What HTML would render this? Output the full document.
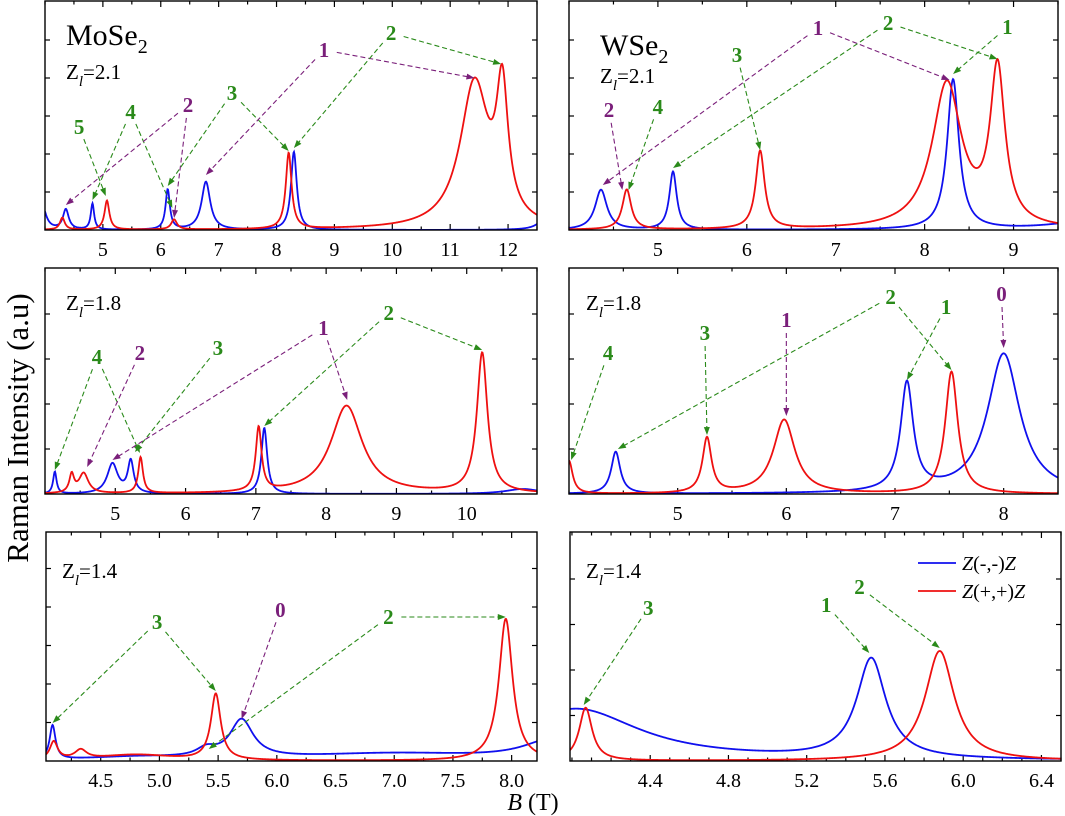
<!DOCTYPE html>
<html><head><meta charset="utf-8"><style>
html,body{margin:0;padding:0;background:#fff;}
svg{display:block;font-family:"Liberation Serif",serif;}
</style></head><body>
<svg id="chart" width="1065" height="816" viewBox="0 0 1065 816" xmlns="http://www.w3.org/2000/svg">
<text x="0" y="0" transform="translate(28,428) rotate(-90)" text-anchor="middle" font-size="31">Raman Intensity (a.u)</text>
<text x="533" y="810" text-anchor="middle" font-size="24"><tspan font-style="italic">B</tspan> (T)</text>
</svg>
<script>
// ---- data: peak centers (T), heights (a.u.), widths (T) ----
const mose2_21_blue_center=[3.95,4.36,4.82,6.12,6.78,8.3,12.65];
const mose2_21_blue_height=[25,20,26,40,48,78,12];
const mose2_21_blue_width=[0.08,0.06,0.035,0.045,0.09,0.06,0.15];
const mose2_21_red_center=[4.3,5.07,6.23,8.21,11.42,11.9];
const mose2_21_red_height=[12,29,10,76,145,125];
const mose2_21_red_width=[0.05,0.05,0.06,0.06,0.3,0.12];

const wse2_21_blue_center=[4.36,5.17,8.32,9.8];
const wse2_21_blue_height=[40,58,150,8];
const wse2_21_blue_width=[0.08,0.05,0.08,0.5];
const wse2_21_red_center=[4.65,6.15,8.25,8.82];
const wse2_21_red_height=[40,78,145,155];
const wse2_21_red_width=[0.06,0.06,0.2,0.1];

const mose2_18_blue_center=[4.14,4.96,5.22,7.12,10.8];
const mose2_18_blue_height=[22,30,32,66,5];
const mose2_18_blue_width=[0.03,0.09,0.05,0.05,0.3];
const mose2_18_red_center=[4.38,4.55,5.36,7.04,8.29,10.22];
const mose2_18_red_height=[18,20,36,64,88,140];
const mose2_18_red_width=[0.04,0.08,0.04,0.05,0.27,0.09];

const wse2_18_blue_center=[4.43,7.11,8.0];
const wse2_18_blue_height=[42,108,140];
const wse2_18_blue_width=[0.05,0.07,0.18];
const wse2_18_red_center=[4.0,5.27,5.98,7.52];
const wse2_18_red_height=[33,55,74,122];
const wse2_18_red_width=[0.04,0.05,0.12,0.07];

const mose2_14_blue_center=[4.09,4.8,5.4,5.7,7.0,8.35];
const mose2_14_blue_height=[34,3,8,38,7,20];
const mose2_14_blue_width=[0.03,0.5,0.1,0.12,1.0,0.3];
const mose2_14_red_center=[4.1,4.33,4.8,5.48,7.95];
const mose2_14_red_height=[18,9,6,66,142];
const mose2_14_red_width=[0.04,0.06,0.4,0.05,0.07];

const wse2_14_blue_center=[4.02,5.53];
const wse2_14_blue_height=[52,100];
const wse2_14_blue_width=[0.4,0.09];
const wse2_14_red_center=[4.07,5.88];
const wse2_14_red_height=[53,110];
const wse2_14_red_width=[0.04,0.09];

// tick labels
const ticks_p1=[5,6,7,8,9,10,11,12];
const ticks_p2=[5,6,7,8,9];
const ticks_p3=[5,6,7,8,9,10];
const ticks_p4=[5,6,7,8];
const ticks_p5=["4.5","5.0","5.5","6.0","6.5","7.0","7.5","8.0"];
const ticks_p6=["4.4","4.8","5.2","5.6","6.0","6.4"];

const GREEN="#2a8a1a", PURPLE="#7a1f7a";
const panels=[
 {name:"mose2-z2.1",l:45,r:537,t:1,b:230,x0:4.0,x1:12.5,ticks:ticks_p1,minor:0.5,ystep:38,
  blue:[mose2_21_blue_center,mose2_21_blue_height,mose2_21_blue_width],red:[mose2_21_red_center,mose2_21_red_height,mose2_21_red_width],
  title:"MoSe",zl:"2.1",tx:66,ty:45,zy:79,
  ann:[["5",GREEN,4.59,103,[[5.05,34]]],["4",GREEN,5.48,118,[[4.82,30],[6.2,22]]],["2",PURPLE,6.47,125,[[4.36,25],[6.23,12]]],
       ["3",GREEN,7.23,137,[[6.12,44],[8.21,79]]],["1",PURPLE,8.82,180,[[6.78,55],[11.42,152]]],["2",GREEN,9.98,197,[[8.3,82],[11.88,166]]]]},
 {name:"wse2-z2.1",l:569,r:1058,t:1,b:230,x0:4.0,x1:9.5,ticks:ticks_p2,minor:0.5,ystep:38,
  blue:[wse2_21_blue_center,wse2_21_blue_height,wse2_21_blue_width],red:[wse2_21_red_center,wse2_21_red_height,wse2_21_red_width],
  title:"WSe",zl:"2.1",tx:600,ty:55,zy:83,
  ann:[["1",PURPLE,6.8,202,[[4.38,45],[8.28,150]]],["2",GREEN,7.59,207,[[5.17,62],[8.82,171]]],["1",GREEN,8.93,203,[[8.32,156]]],
       ["3",GREEN,5.89,175,[[6.15,80]]],["2",PURPLE,4.45,120,[[4.6,40]]],["4",GREEN,5.0,123,[[4.67,40]]]]},
 {name:"mose2-z1.8",l:45,r:537,t:268,b:494,x0:4.0,x1:11.0,ticks:ticks_p3,minor:0.5,ystep:45,
  blue:[mose2_18_blue_center,mose2_18_blue_height,mose2_18_blue_width],red:[mose2_18_red_center,mose2_18_red_height,mose2_18_red_width],
  title:null,zl:"1.8",tx:66,zy:310,
  ann:[["4",GREEN,4.74,137,[[4.14,24],[5.35,41]]],["2",PURPLE,5.35,141,[[4.6,27]]],["3",GREEN,6.46,146,[[5.28,42]]],
       ["1",PURPLE,7.96,166,[[4.96,34],[8.3,94]]],["2",GREEN,8.89,181,[[7.12,68],[10.22,144]]]]},
 {name:"wse2-z1.8",l:569,r:1058,t:268,b:494,x0:4.0,x1:8.5,ticks:ticks_p4,minor:0.5,ystep:45,
  blue:[wse2_18_blue_center,wse2_18_blue_height,wse2_18_blue_width],red:[wse2_18_red_center,wse2_18_red_height,wse2_18_red_width],
  title:null,zl:"1.8",tx:586,zy:310,
  ann:[["4",GREEN,4.36,141,[[4.02,34]]],["3",GREEN,5.25,161,[[5.27,59]]],["1",PURPLE,6.0,174,[[6.0,78]]],
       ["2",GREEN,6.96,197,[[4.45,45],[7.52,124]]],["1",GREEN,7.47,187,[[7.11,114]]],["0",PURPLE,7.98,200,[[8.0,146]]]]},
 {name:"mose2-z1.4",l:46,r:537,t:532,b:761,x0:4.034,x1:8.216,ticks:ticks_p5,minor:0.25,ystep:38.5,
  blue:[mose2_14_blue_center,mose2_14_blue_height,mose2_14_blue_width],red:[mose2_14_red_center,mose2_14_red_height,mose2_14_red_width],
  title:null,zl:"1.4",tx:62,zy:578,
  ann:[["3",GREEN,4.98,139,[[4.09,38],[5.48,70]]],["0",PURPLE,6.03,151,[[5.7,42]]],["2",GREEN,6.95,144,[[5.42,12],[7.95,144]]]]},
 {name:"wse2-z1.4",l:570,r:1061,t:532,b:761,x0:3.99,x1:6.5,ticks:ticks_p6,minor:0.1,ystep:45.5,
  blue:[wse2_14_blue_center,wse2_14_blue_height,wse2_14_blue_width],red:[wse2_14_red_center,wse2_14_red_height,wse2_14_red_width],
  title:null,zl:"1.4",tx:586,zy:578,
  ann:[["3",GREEN,4.39,153,[[4.06,56]]],["1",GREEN,5.3,156,[[5.52,108]]],["2",GREEN,5.47,174,[[5.88,113]]]]}
];

const NS="http://www.w3.org/2000/svg";
const svg=document.getElementById("chart");
function mk(tag,attrs,parent){const e=document.createElementNS(NS,tag);for(const k in attrs)e.setAttribute(k,attrs[k]);(parent||svg).appendChild(e);return e;}
function curve(B,s){let v=0;for(let i=0;i<s[0].length;i++){const d=(B-s[0][i])/s[2][i];v+=s[1][i]/(1+d*d);}return v;}

panels.forEach((p,pi)=>{
  const xs=B=>p.l+(B-p.x0)/(p.x1-p.x0)*(p.r-p.l);
  const ys=h=>p.b-h;
  const g=mk("g",{});
  
  
  const cp=mk("clipPath",{id:"cp"+pi},g);
  mk("rect",{x:p.l,y:p.t,width:p.r-p.l,height:p.b-p.t},cp);
  const tv=p.ticks.map(Number);
  const start=tv[0]-Math.floor((tv[0]-p.x0)/p.minor+1e-9)*p.minor;
  for(let v=start;v<=p.x1+1e-9;v+=p.minor){
    const major=tv.some(t=>Math.abs(t-v)<1e-6);
    const X=xs(v);const L=major?6:3.5;
    const t1=mk("line",{x1:X,x2:X,y1:p.b,y2:p.b-L,stroke:"#000","stroke-width":1.2},g);
    
    
    const t2=mk("line",{x1:X,x2:X,y1:p.t,y2:p.t+L,stroke:"#000","stroke-width":1.2},g);
    
    
  }
  p.ticks.forEach(t=>{
    const tx=mk("text",{x:xs(Number(t)),y:p.b+26,"text-anchor":"middle","font-size":20},g);
    
    
    tx.textContent=String(t);
  });
  for(let y=p.b-p.ystep;y>p.t+5;y-=p.ystep){
    const a=mk("line",{x1:p.l,x2:p.l+5,y1:y,y2:y,stroke:"#000","stroke-width":1.2},g);
    
    
    const b=mk("line",{x1:p.r,x2:p.r-5,y1:y,y2:y,stroke:"#000","stroke-width":1.2},g);
    
    
  }
  [["blue","#1010ee"],["red","#ee1010"]].forEach(([k,col])=>{
    let d="";
    for(let X=p.l;X<=p.r;X+=0.5){const B=p.x0+(X-p.l)/(p.r-p.l)*(p.x1-p.x0);d+=(d?"L":"M")+X.toFixed(1)+","+ys(curve(B,p[k])).toFixed(2);}
    const path=mk("path",{d:d,fill:"none",stroke:col,"stroke-width":1.8,"clip-path":"url(#cp"+pi+")"},g);
    
    
  });
  const fr=mk("rect",{x:p.l,y:p.t,width:p.r-p.l,height:p.b-p.t,fill:"none",stroke:"#000","stroke-width":1.4},g);
  
  
  if(p.title){
    const tt=mk("text",{x:p.tx,y:p.ty,"font-size":30},g);
    
    
    tt.innerHTML=p.title+'<tspan dy="8" font-size="20">2</tspan>';
  }
  const zt=mk("text",{x:p.tx,y:p.zy,"font-size":21},g);
  
  
  zt.innerHTML='Z<tspan dy="7" font-size="15" font-style="italic">l</tspan><tspan dy="-7">='+p.zl+'</tspan>';
  p.ann.forEach(a=>{
    const [lab,col,lb,lh,targets]=a;
    const LX=xs(lb),LY=ys(lh);
    const t=mk("text",{x:LX,y:LY+7,"text-anchor":"middle","font-size":21,"font-weight":"bold",fill:col},g);
    
    
    t.textContent=lab;
    targets.forEach(tg=>{
      const TX=xs(tg[0]),TY=ys(tg[1]);
      const dx=TX-LX,dy=TY-LY,len=Math.hypot(dx,dy),ux=dx/len,uy=dy/len;
      const sx=LX+ux*13,sy=LY+uy*13;
      const ex=TX-ux*6,ey=TY-uy*6;
      const ln=mk("line",{x1:sx,y1:sy,x2:ex,y2:ey,stroke:col,"stroke-width":1.1,"stroke-dasharray":"5,3"},g);
      
      
      const px=-uy,py=ux;
      const hd=mk("polygon",{points:`${TX},${TY} ${ex-ux*2+px*3},${ey-uy*2+py*3} ${ex-ux*2-px*3},${ey-uy*2-py*3}`,fill:col},g);
      
      
    });
  });
});
const lg=mk("g",{});


[["#1010ee","Z(-,-)Z",563],["#ee1010","Z(+,+)Z",591]].forEach(([c,t,y])=>{
  const l=mk("line",{x1:918,x2:956,y1:y,y2:y,stroke:c,"stroke-width":1.8},lg);
  
  
  const tx=mk("text",{x:962,y:y+7,"font-size":20},lg);
  
  
  tx.innerHTML='<tspan font-style="italic">Z</tspan>'+t.slice(1,-1)+'<tspan font-style="italic">Z</tspan>';
});
</script>
</body></html>
